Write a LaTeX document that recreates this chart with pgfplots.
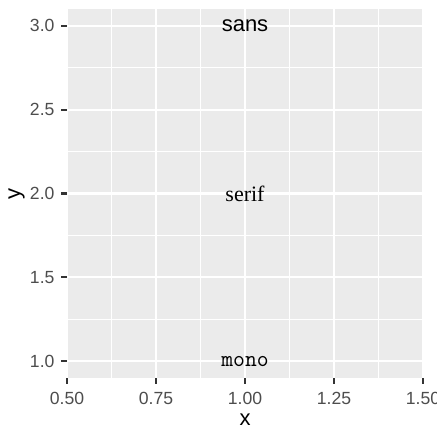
\documentclass[border=0pt]{standalone}
\usepackage{fontspec}
\setmainfont{Liberation Sans}
\newfontfamily\seriffont{Liberation Serif}
\usepackage{pgfplots}
\pgfplotsset{compat=1.18}
\definecolor{panelbg}{HTML}{EBEBEB}
\definecolor{gray30}{HTML}{4D4D4D}
\definecolor{gray20}{HTML}{333333}
\begin{document}
\begin{tikzpicture}
\begin{axis}[
    at={(0,0)}, anchor=south west,
    scale only axis, width=178pt, height=184.5pt,
    xmin=0.5, xmax=1.5, ymin=0.9, ymax=3.1,
    xtick={0.5,0.75,1,1.25,1.5},
    xticklabels={0.50,0.75,1.00,1.25,1.50},
    ytick={1,1.5,2,2.5,3},
    yticklabels={1.0,1.5,2.0,2.5,3.0},
    minor xtick={0.625,0.875,1.125,1.375},
    minor ytick={1.25,1.75,2.25,2.75},
    grid=both,
    major grid style={white, line width=1.07pt},
    minor grid style={white, line width=0.53pt},
    axis background/.style={fill=panelbg},
    axis line style={draw=none},
    tick pos=left, tick align=outside,
    major tick length=2.75pt, minor tick length=0pt,
    major tick style={gray20, line width=1.07pt},
    /pgf/number format/assume math mode=true,
    tick label style={font=\fontsize{8.8}{10}\selectfont, text=gray30},
    xticklabel style={yshift=-1pt},
    xlabel={x}, ylabel={y},
    label style={font=\fontsize{11}{13}\selectfont},
    xlabel style={at={(axis description cs:0.5,-0.128)}, anchor=base},
    ylabel style={at={(axis description cs:-0.1418,0.5)}, anchor=center},
]
\node[font=\fontsize{11}{13}\selectfont] at (axis cs:1,3) {sans};
\node[font=\fontsize{11}{13}\selectfont\seriffont] at (axis cs:1,2) {serif};
\node[font=\fontsize{11.5}{13}\selectfont\ttfamily] at (axis cs:1,1) {mono};
\end{axis}
\pgfresetboundingbox
\path[use as bounding box] (-33.5pt,-23.5pt) rectangle (185pt,189pt);
\end{tikzpicture}
\end{document}
